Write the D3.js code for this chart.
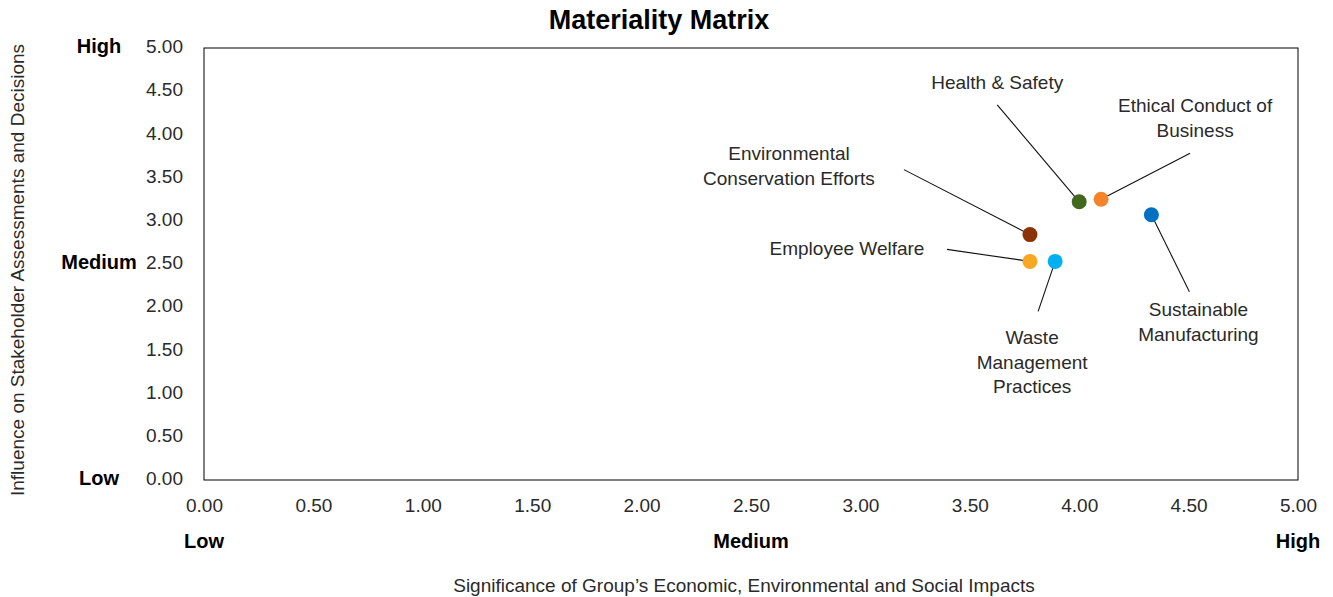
<!DOCTYPE html>
<html>
<head>
<meta charset="utf-8">
<script src="https://cdn.jsdelivr.net/npm/d3@7"></script>
<style>
  body { margin: 0; background: #fff; }
  text { font-family: "Liberation Sans", Arial, sans-serif; fill: #2a2a2a; }
</style>
</head>
<body>
<script>
// Chart values
const topics = [
  'Health & Safety',
  'Ethical Conduct of Business',
  'Sustainable Manufacturing',
  'Environmental Conservation Efforts',
  'Employee Welfare',
  'Waste Management Practices'
];
const significance = [4.0, 4.1, 4.33, 3.775, 3.775, 3.89];
const influence = [3.22, 3.25, 3.07, 2.84, 2.53, 2.53];
const ticks = [0, 0.5, 1, 1.5, 2, 2.5, 3, 3.5, 4, 4.5, 5];
const levels = [[0, 'Low'], [2.5, 'Medium'], [5, 'High']];

// Label lines and placement (pixel offsets from each point)
const labelLines = [
  ['Health & Safety'],
  ['Ethical Conduct of', 'Business'],
  ['Sustainable', 'Manufacturing'],
  ['Environmental', 'Conservation Efforts'],
  ['Employee Welfare'],
  ['Waste', 'Management', 'Practices']
];
const labelOffset = [
  { tx: -82, ty: -119, lx: -82, ly: -97 },
  { tx: 94, ty: -94, lx: 89, ly: -46 },
  { tx: 47, ty: 95, lx: 38, ly: 77 },
  { tx: -241, ty: -81, lx: -126, ly: -65 },
  { tx: -183, ty: -13, lx: -83, ly: -12 },
  { tx: -23, ty: 76, lx: -17, ly: 50 }
];
const colors = ['#41691e', '#f5832a', '#0070c0', '#8b3206', '#f8a724', '#00b0f0'];

const W = 1333, H = 597;
const margin = { top: 48, right: 35, bottom: 117, left: 204 };

const svg = d3.select('body').append('svg')
  .attr('width', W).attr('height', H);

const x = d3.scaleLinear().domain([0, 5]).range([margin.left, W - margin.right]);
const y = d3.scaleLinear().domain([0, 5]).range([H - margin.bottom, margin.top]);

// Title
svg.append('text')
  .attr('x', 659).attr('y', 29)
  .attr('text-anchor', 'middle')
  .style('font-size', '27px').style('font-weight', 'bold')
  .style('fill', '#000')
  .text('Materiality Matrix');

// Plot frame
svg.append('rect')
  .attr('x', x(0)).attr('y', y(5))
  .attr('width', x(5) - x(0)).attr('height', y(0) - y(5))
  .attr('fill', 'none').attr('stroke', '#000').attr('stroke-width', 1);

// Axes (labels only)
const xAxis = svg.append('g')
  .attr('transform', `translate(0,${y(0)})`)
  .call(d3.axisBottom(x).tickValues(ticks).tickFormat(d3.format('.2f')).tickSize(0).tickPadding(19));
const yAxis = svg.append('g')
  .attr('transform', `translate(${x(0)},0)`)
  .call(d3.axisLeft(y).tickValues(ticks).tickFormat(d3.format('.2f')).tickSize(0).tickPadding(21));
[xAxis, yAxis].forEach(g => {
  g.select('.domain').remove();
  g.selectAll('text')
    .style('font-size', '19px')
    .style('font-family', '"Liberation Sans", Arial, sans-serif')
    .style('fill', '#2a2a2a');
});
yAxis.selectAll('text').attr('dy', '0.25em');

// Low / Medium / High markers
svg.append('g').selectAll('text')
  .data(levels).join('text')
  .attr('x', d => x(d[0])).attr('y', y(0) + 68)
  .attr('text-anchor', 'middle')
  .style('font-size', '20px').style('font-weight', 'bold').style('fill', '#000')
  .text(d => d[1]);
svg.append('g').selectAll('text')
  .data(levels).join('text')
  .attr('x', 99).attr('y', d => y(d[0]) + 5)
  .attr('text-anchor', 'middle')
  .style('font-size', '20px').style('font-weight', 'bold').style('fill', '#000')
  .text(d => d[1]);

// Axis titles
svg.append('text')
  .attr('x', 744).attr('y', 592)
  .attr('text-anchor', 'middle')
  .style('font-size', '19px')
  .text('Significance of Group\u2019s Economic, Environmental and Social Impacts');
svg.append('text')
  .attr('transform', 'translate(24,270) rotate(-90)')
  .attr('text-anchor', 'middle')
  .style('font-size', '19px')
  .text('Influence on Stakeholder Assessments and Decisions');

const points = topics.map((t, i) => ({
  name: t,
  px: x(significance[i]),
  py: y(influence[i]),
  lines: labelLines[i],
  off: labelOffset[i],
  color: colors[i]
}));

// Leader lines
svg.append('g').selectAll('line')
  .data(points).join('line')
  .attr('x1', d => d.px + d.off.lx).attr('y1', d => d.py + d.off.ly)
  .attr('x2', d => d.px).attr('y2', d => d.py)
  .attr('stroke', '#111').attr('stroke-width', 1.1);

// Dots
svg.append('g').selectAll('circle')
  .data(points).join('circle')
  .attr('cx', d => d.px).attr('cy', d => d.py)
  .attr('r', 7.5)
  .attr('fill', d => d.color);

// Labels
const labels = svg.append('g').selectAll('text')
  .data(points).join('text')
  .attr('text-anchor', 'middle')
  .attr('transform', d => `translate(${d.px + d.off.tx},${d.py + d.off.ty})`)
  .style('font-size', '19px');
labels.selectAll('tspan')
  .data(d => d.lines).join('tspan')
  .attr('x', 0)
  .attr('y', (d, i) => i * 24.7)
  .attr('dy', '0.35em')
  .text(d => d);
</script>
</body>
</html>
